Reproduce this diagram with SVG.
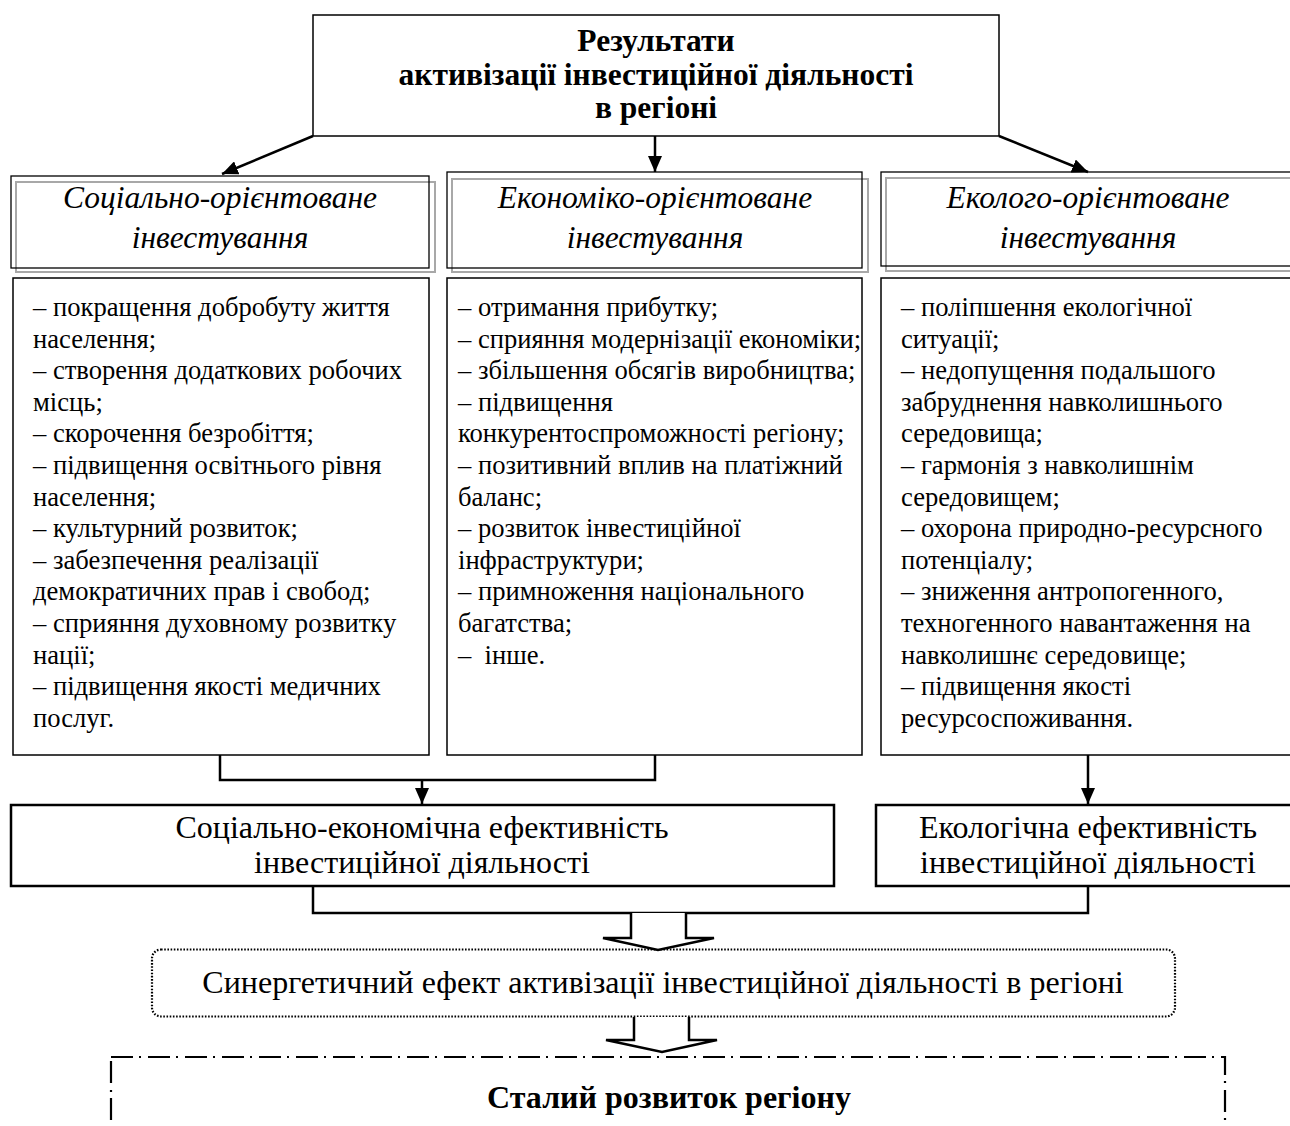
<svg xmlns="http://www.w3.org/2000/svg" width="1290" height="1126" viewBox="0 0 1290 1126">
<style>
text{font-family:"Liberation Serif","Times New Roman",serif;fill:#000}
.box{fill:#fff;stroke:#000;stroke-width:1.5}
.thick{fill:#fff;stroke:#000;stroke-width:2.5}
.gray{fill:none;stroke:#a8a8a8;stroke-width:2}
.blk{fill:none;stroke:#000;stroke-width:1.3}
.title{font-size:31.5px;font-weight:bold;text-anchor:middle}
.hdr{font-size:31.5px;font-style:italic;text-anchor:middle}
.item{font-size:26.6px}
.eff{font-size:32px;text-anchor:middle}
.con{fill:none;stroke:#000;stroke-width:2.5}
.blockarrow{fill:#fff;stroke:#000;stroke-width:2.5;stroke-linejoin:miter}
</style>
<defs>
<marker id="ah" viewBox="0 0 16 14" refX="16" refY="7" markerWidth="16" markerHeight="14" markerUnits="userSpaceOnUse" orient="auto">
<path d="M0,0 L16,7 L0,14 z" fill="#000"/>
</marker>
</defs>
<rect width="1290" height="1126" fill="#fff"/>

<g id="top">
<rect class="box" x="313" y="15" width="686" height="121"/>
<text class="title" x="656" y="51">Результати</text>
<text class="title" x="656" y="85">активізації інвестиційної діяльності</text>
<text class="title" x="656" y="118">в регіоні</text>
</g>

<g id="hdr-social">
<rect class="gray" x="16" y="182" width="419" height="90"/>
<rect class="blk" x="11" y="176" width="418" height="92"/>
<text class="hdr" x="220" y="208">Соціально-орієнтоване</text>
<text class="hdr" x="220" y="248">інвестування</text>
</g>
<g id="hdr-econ">
<rect class="gray" x="452" y="179" width="416" height="93"/>
<rect class="blk" x="447" y="172" width="415" height="96"/>
<text class="hdr" x="655" y="208">Економіко-орієнтоване</text>
<text class="hdr" x="655" y="248">інвестування</text>
</g>
<g id="hdr-eco">
<rect class="gray" x="886" y="178" width="420" height="93"/>
<rect class="blk" x="881" y="172" width="420" height="94"/>
<text class="hdr" x="1088" y="208">Еколого-орієнтоване</text>
<text class="hdr" x="1088" y="248">інвестування</text>
</g>

<g id="list-social">
<rect class="box" x="13" y="278" width="416" height="477"/>
<text class="item" x="33" y="316">– покращення добробуту життя</text>
<text class="item" x="33" y="347.6">населення;</text>
<text class="item" x="33" y="379.2">– створення додаткових робочих</text>
<text class="item" x="33" y="410.8">місць;</text>
<text class="item" x="33" y="442.4">– скорочення безробіття;</text>
<text class="item" x="33" y="474">– підвищення освітнього рівня</text>
<text class="item" x="33" y="505.6">населення;</text>
<text class="item" x="33" y="537.2">– культурний розвиток;</text>
<text class="item" x="33" y="568.8">– забезпечення реалізації</text>
<text class="item" x="33" y="600.4">демократичних прав і свобод;</text>
<text class="item" x="33" y="632">– сприяння духовному розвитку</text>
<text class="item" x="33" y="663.6">нації;</text>
<text class="item" x="33" y="695.2">– підвищення якості медичних</text>
<text class="item" x="33" y="726.8">послуг.</text>
</g>

<g id="list-econ">
<rect class="box" x="447" y="278" width="415" height="477"/>
<text class="item" x="458" y="316">– отримання прибутку;</text>
<text class="item" x="458" y="347.6">– сприяння модернізації економіки;</text>
<text class="item" x="458" y="379.2">– збільшення обсягів виробництва;</text>
<text class="item" x="458" y="410.8">– підвищення</text>
<text class="item" x="458" y="442.4">конкурентоспроможності регіону;</text>
<text class="item" x="458" y="474">– позитивний вплив на платіжний</text>
<text class="item" x="458" y="505.6">баланс;</text>
<text class="item" x="458" y="537.2">– розвиток інвестиційної</text>
<text class="item" x="458" y="568.8">інфраструктури;</text>
<text class="item" x="458" y="600.4">– примноження національного</text>
<text class="item" x="458" y="632">багатства;</text>
<text class="item" x="458" y="663.6" xml:space="preserve">–  інше.</text>
</g>

<g id="list-eco">
<rect class="box" x="881" y="278" width="420" height="477"/>
<text class="item" x="901" y="316">– поліпшення екологічної</text>
<text class="item" x="901" y="347.6">ситуації;</text>
<text class="item" x="901" y="379.2">– недопущення подальшого</text>
<text class="item" x="901" y="410.8">забруднення навколишнього</text>
<text class="item" x="901" y="442.4">середовища;</text>
<text class="item" x="901" y="474">– гармонія з навколишнім</text>
<text class="item" x="901" y="505.6">середовищем;</text>
<text class="item" x="901" y="537.2">– охорона природно-ресурсного</text>
<text class="item" x="901" y="568.8">потенціалу;</text>
<text class="item" x="901" y="600.4">– зниження антропогенного,</text>
<text class="item" x="901" y="632">техногенного навантаження на</text>
<text class="item" x="901" y="663.6">навколишнє середовище;</text>
<text class="item" x="901" y="695.2">– підвищення якості</text>
<text class="item" x="901" y="726.8">ресурсоспоживання.</text>
</g>

<g id="eff-socecon">
<rect class="thick" x="11" y="805" width="823" height="81"/>
<text class="eff" x="422" y="838">Соціально-економічна ефективність</text>
<text class="eff" x="422" y="873">інвестиційної діяльності</text>
</g>
<g id="eff-eco">
<rect class="thick" x="876" y="805" width="430" height="81"/>
<text class="eff" x="1088" y="838">Екологічна ефективність</text>
<text class="eff" x="1088" y="873">інвестиційної діяльності</text>
</g>

<g id="synergy">
<rect x="152" y="949.5" width="1023" height="67" rx="9" ry="9" fill="#fff" stroke="#000" stroke-width="2.2" stroke-dasharray="1.6 1.6"/>
<text class="eff" x="663" y="993">Синергетичний ефект активізації інвестиційної діяльності в регіоні</text>
</g>

<g id="sustainable">
<rect x="111" y="1057" width="1114" height="120" fill="#fff" stroke="#000" stroke-width="2.2" stroke-dasharray="22 6 2 7"/>
<text x="669" y="1108" style="font-size:32px;font-weight:bold;text-anchor:middle">Сталий розвиток регіону</text>
</g>

<g id="connectors">
<line class="con" x1="313" y1="136" x2="222" y2="174" marker-end="url(#ah)"/>
<line class="con" x1="655" y1="136" x2="655" y2="172" marker-end="url(#ah)"/>
<line class="con" x1="999" y1="136" x2="1088" y2="172" marker-end="url(#ah)"/>
<polyline class="con" points="220,755 220,780 655,780 655,755"/>
<line class="con" x1="422" y1="780" x2="422" y2="804" marker-end="url(#ah)"/>
<line class="con" x1="1088" y1="755" x2="1088" y2="804" marker-end="url(#ah)"/>
<polyline class="con" points="313,886 313,913 1088,913 1088,886"/>
<path class="blockarrow" d="M631,913 L631,938 L603,938 L658,950 L714,938 L686,938 L686,913"/>
<path class="blockarrow" d="M634,1017 L634,1040 L606,1040 L662,1052 L717,1040 L689,1040 L689,1017"/>
</g>
</svg>
